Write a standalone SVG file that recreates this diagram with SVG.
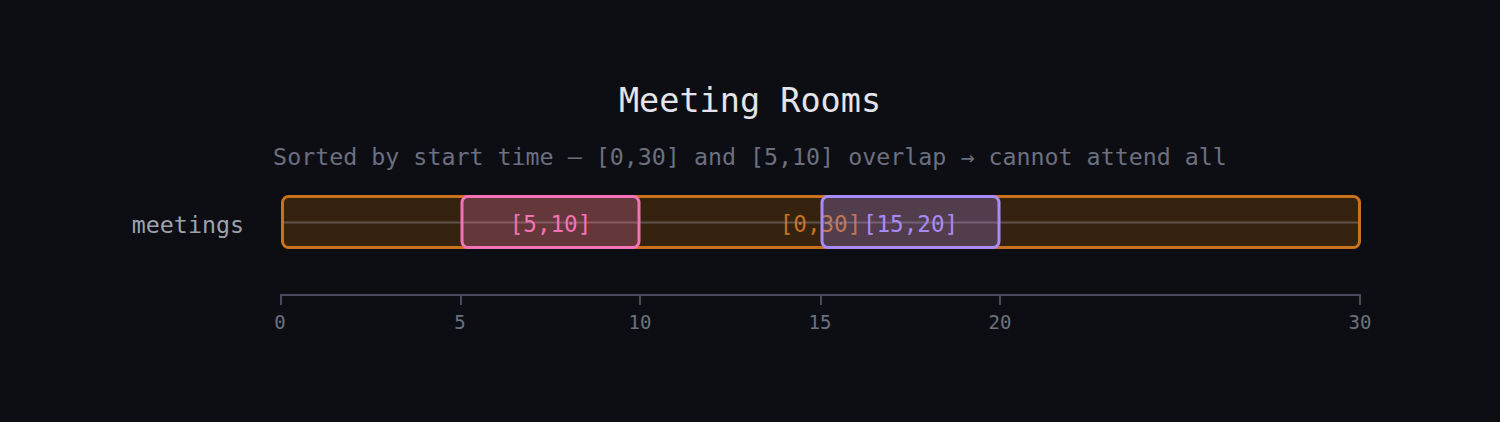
<svg xmlns="http://www.w3.org/2000/svg" width="1500" height="422" viewBox="0 0 1500 422">
<style>
text{font-family:"DejaVu Sans Mono","Liberation Mono",monospace}
.title{font-size:33.5px;fill:#e4e4ea;text-anchor:middle}
.sub{font-size:23.3px;fill:#6b7080;text-anchor:middle}
.lane{font-size:23.3px;fill:#9ca3af;text-anchor:end}
.lbl{font-size:22.6px;text-anchor:middle}
.tick{font-size:19px;fill:#6b7280;text-anchor:middle}
.axis{stroke:#4a4a5e;stroke-width:2;fill:none}
.iv{stroke-width:3}
</style>
<rect width="1500" height="422" fill="#0d0e13"/>
<text class="title" x="750" y="112">Meeting Rooms</text>
<text class="sub" x="750" y="165">Sorted by start time — [0,30] and [5,10] overlap → cannot attend all</text>
<text class="lane" x="244" y="233">meetings</text>
<g id="interval-0-30">
<rect class="iv" x="282.5" y="196.5" width="1077" height="51" rx="6" fill="#d97706" fill-opacity="0.2" stroke="#c8721e"/>
<text class="lbl" x="820.5" y="232" fill="#c8721e">[0,30]</text>
</g>
<g id="connectors">
<line x1="283" y1="222.5" x2="1358" y2="222.5" stroke="#9a8a98" stroke-opacity="0.45" stroke-width="2"/>
</g>
<g id="interval-5-10">
<rect class="iv" x="462" y="196.5" width="177" height="51" rx="6" fill="#f472b6" fill-opacity="0.25" stroke="#f472b6"/>
<text class="lbl" x="550.5" y="232" fill="#f472b6">[5,10]</text>
</g>
<g id="interval-15-20">
<rect class="iv" x="822" y="196.5" width="177" height="51" rx="6" fill="#a78bfa" fill-opacity="0.25" stroke="#a78bfa"/>
<text class="lbl" x="910.5" y="232" fill="#a78bfa">[15,20]</text>
</g>
<g id="axis">
<path class="axis" d="M281,295 H1360 M281,294 V305 M461,294 V305 M640,294 V305 M821,294 V305 M1000,294 V305 M1360,294 V305"/>
<text class="tick" x="280" y="329">0</text>
<text class="tick" x="460" y="329">5</text>
<text class="tick" x="640" y="329">10</text>
<text class="tick" x="820" y="329">15</text>
<text class="tick" x="1000" y="329">20</text>
<text class="tick" x="1360" y="329">30</text>
</g>
</svg>
